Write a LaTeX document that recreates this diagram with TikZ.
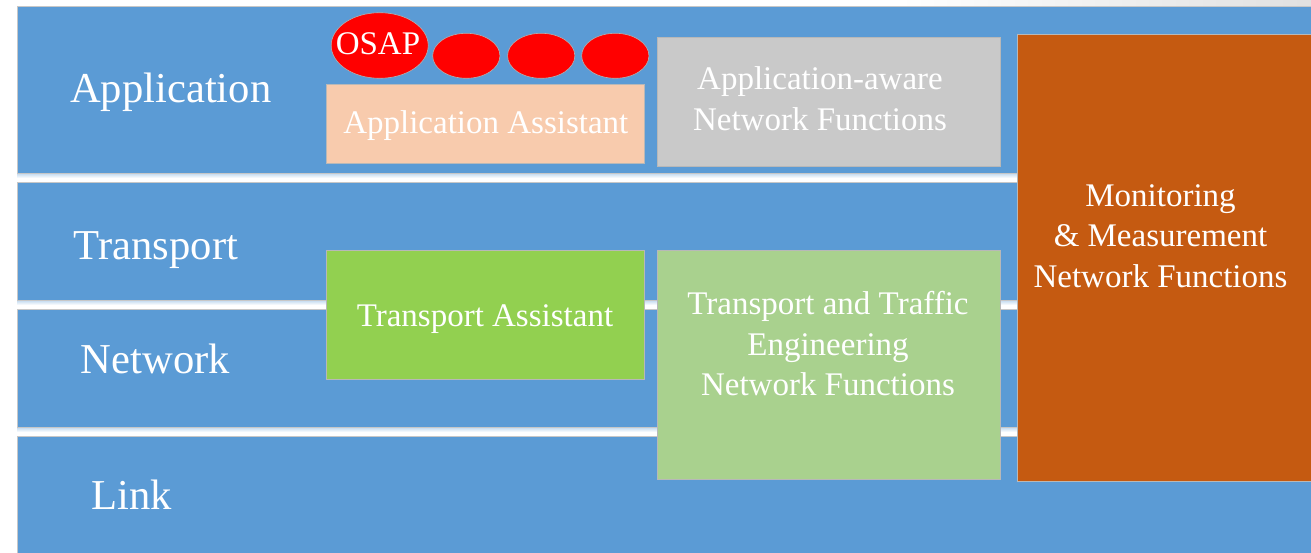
\documentclass[tikz,border=0pt]{standalone}
\usepackage{fontspec}
\setmainfont{Liberation Serif}
\usetikzlibrary{shapes.geometric}
\definecolor{band}{HTML}{5B9BD5}
\definecolor{peach}{HTML}{F8CBAD}
\definecolor{lgray}{HTML}{C9C9C9}
\definecolor{tgreen}{HTML}{92D050}
\definecolor{lgreen}{HTML}{A9D18E}
\definecolor{rust}{HTML}{C55A11}
\begin{document}
\begin{tikzpicture}[x=1pt,y=-1pt,
  layer/.style={rectangle, draw=black!22, line width=0.7pt, fill=band, anchor=north west, inner sep=0, outer sep=0},
  blk/.style={rectangle, draw=white!72!black, line width=0.7pt, anchor=north west, inner sep=0, outer sep=0},
  oval/.style={ellipse, fill=red, draw=white!70!black, line width=0.6pt, inner sep=0},
  big/.style={text=white, inner sep=0, anchor=base, font=\fontsize{42.6}{51}\selectfont},
  txt/.style={text=white, inner sep=0, font=\fontsize{33}{40.5}\selectfont, align=center}]
\useasboundingbox (0,0) rectangle (1311,553);
\fill[white] (0,0) rectangle (1311,553);
\shade[left color=white, right color=black!12] (900,0) rectangle (1311,6);
\foreach \y in {173,300,427} {
  \shade[top color=band!40, bottom color=white] (17,\y) rectangle (1320,\y+5);
}
% layers
\node[layer, minimum width=1310pt, minimum height=167pt] (Lapp) at (17,6) {};
\node[layer, minimum width=1310pt, minimum height=118pt] (Ltra) at (17,182) {};
\node[layer, minimum width=1310pt, minimum height=118pt] (Lnet) at (17,309) {};
\node[layer, minimum width=1310pt, minimum height=124pt] (Llnk) at (17,436) {};
\node[big] (tApp) at (170.8,103) {Application};
\node[big] (tTra) at (156,260) {Transport};
\node[big] (tNet) at (155.5,373) {Network};
\node[big] (tLnk) at (131.5,509) {Link};
% ovals
\node[oval, minimum width=97pt, minimum height=65.6pt] (osap) at (379.7,45.5) {};
\node[txt, anchor=base] (osapT) at (378,55) {OSAP};
\node[oval, minimum width=67.3pt, minimum height=45pt] (o1) at (466.3,55.8) {};
\node[oval, minimum width=67.3pt, minimum height=45pt] (o2) at (541.2,55.8) {};
\node[oval, minimum width=67.3pt, minimum height=45pt] (o3) at (615.3,55.8) {};
% boxes
\node[blk, fill=peach, minimum width=318pt, minimum height=79pt] (aa) at (326,84) {};
\node[txt, anchor=base] (aaT) at (485.8,133.3) {Application Assistant};
\node[blk, fill=lgray, minimum width=343pt, minimum height=129pt] (aaw) at (657,37) {};
\node[txt] (aawT) at (820,98.75) {Application-aware\\Network Functions};
\node[blk, fill=rust, minimum width=300pt, minimum height=447pt] (mon) at (1017,34) {};
\node[txt] (monT) at (1160.5,236) {Monitoring\\\& Measurement\\Network Functions};
\node[blk, fill=tgreen, minimum width=318pt, minimum height=129pt] (ta) at (326,250) {};
\node[txt, anchor=base] (taT) at (485,326) {Transport Assistant};
\node[blk, fill=lgreen, minimum width=343pt, minimum height=229pt] (tte) at (657,250) {};
\node[txt] (tteT) at (828,343.75) {Transport and Traffic\\Engineering\\Network Functions};
\end{tikzpicture}
\end{document}
